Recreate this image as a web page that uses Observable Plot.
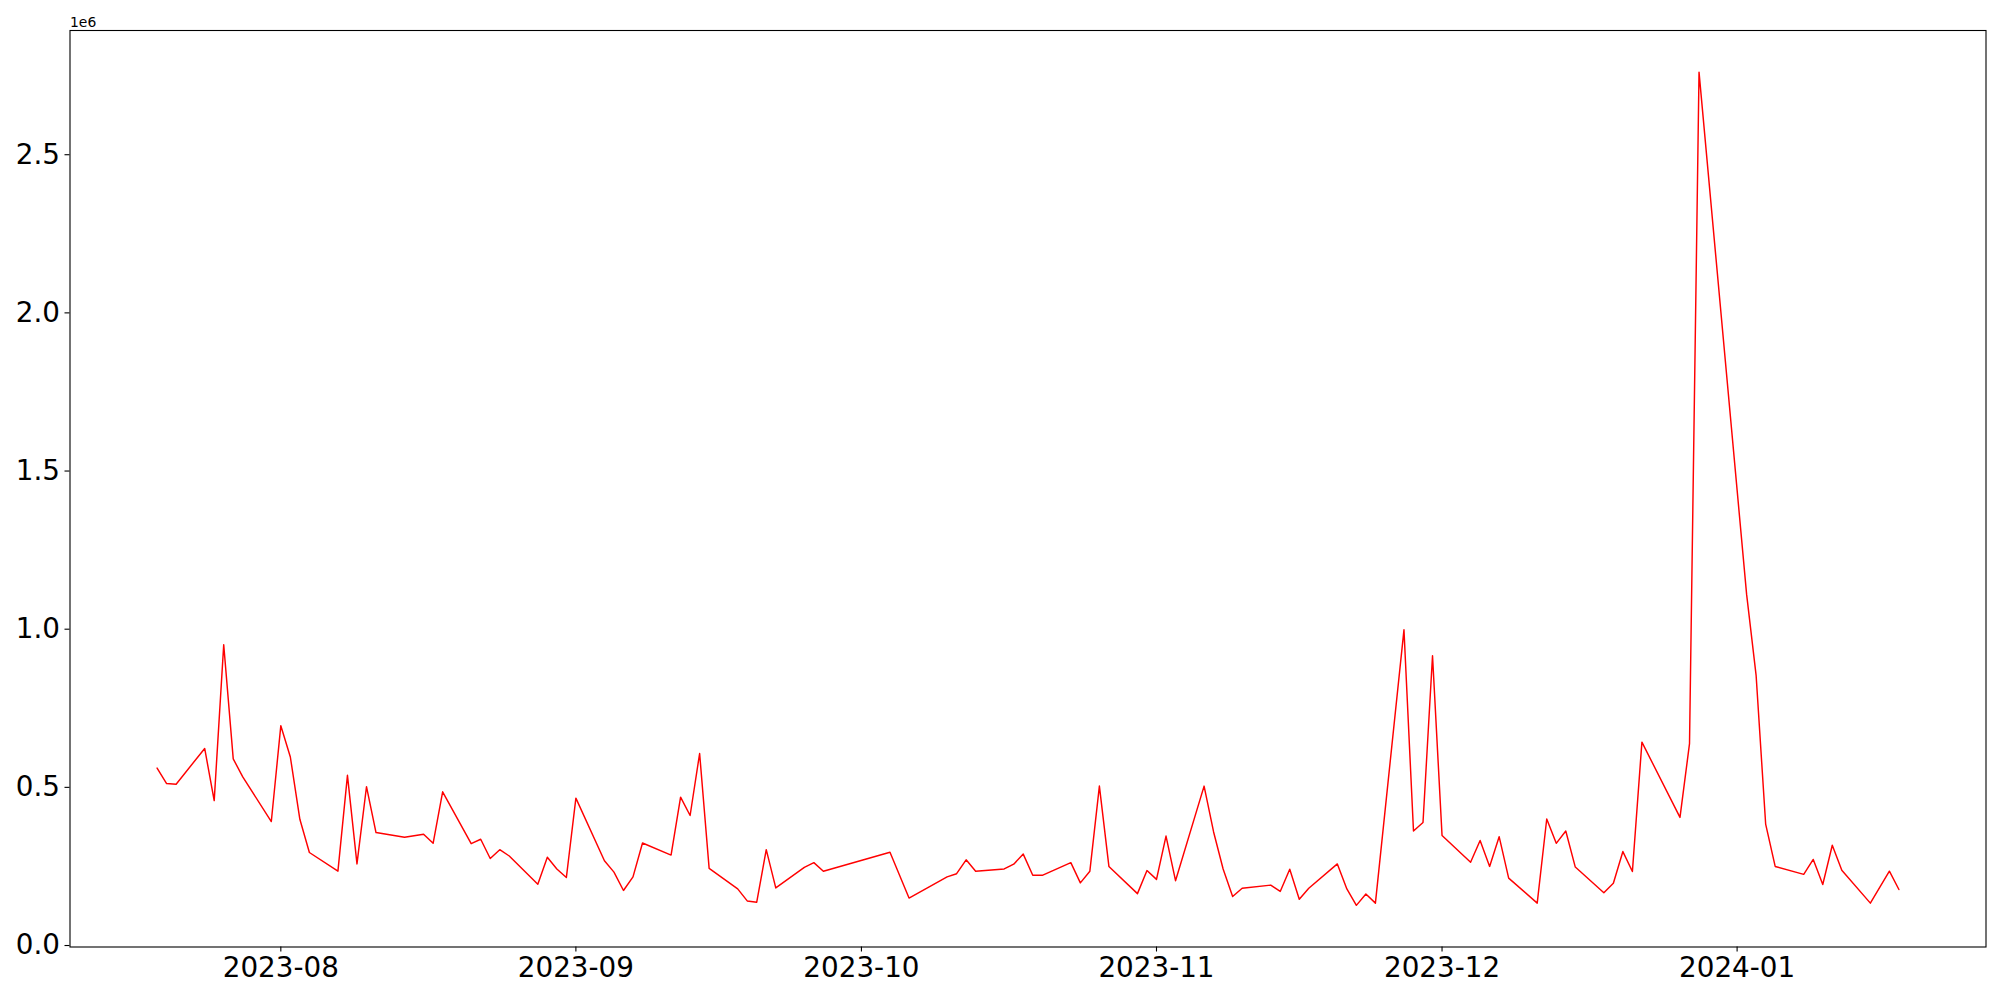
<!DOCTYPE html>
<html>
<head>
<meta charset="utf-8">
<script src="https://cdn.jsdelivr.net/npm/d3@7"></script>
<script src="https://cdn.jsdelivr.net/npm/@observablehq/plot@0.6"></script>
<style>
  html, body { margin: 0; padding: 0; background: #fff; }
  #chart { width: 2000px; height: 1000px; }
</style>
</head>
<body>
<div id="chart"></div>
<script>
const dates = [
  "2023-07-19","2023-07-20","2023-07-21","2023-07-24","2023-07-25","2023-07-26","2023-07-27","2023-07-28","2023-07-31",
  "2023-08-01","2023-08-02","2023-08-03","2023-08-04","2023-08-07","2023-08-08","2023-08-09","2023-08-10","2023-08-11",
  "2023-08-14","2023-08-16","2023-08-17","2023-08-18","2023-08-21","2023-08-22","2023-08-23","2023-08-24","2023-08-25",
  "2023-08-28","2023-08-29","2023-08-30","2023-08-31","2023-09-01","2023-09-04","2023-09-05","2023-09-06","2023-09-07",
  "2023-09-08","2023-09-11","2023-09-12","2023-09-13","2023-09-14","2023-09-15","2023-09-18","2023-09-19","2023-09-20",
  "2023-09-21","2023-09-22","2023-09-25","2023-09-26","2023-09-27","2023-10-04","2023-10-06","2023-10-10","2023-10-11",
  "2023-10-12","2023-10-13","2023-10-16","2023-10-17","2023-10-18","2023-10-19","2023-10-20","2023-10-23","2023-10-24",
  "2023-10-25","2023-10-26","2023-10-27","2023-10-30","2023-10-31","2023-11-01","2023-11-02","2023-11-03","2023-11-06",
  "2023-11-07","2023-11-08","2023-11-09","2023-11-10","2023-11-13","2023-11-14","2023-11-15","2023-11-16","2023-11-17",
  "2023-11-20","2023-11-21","2023-11-22","2023-11-23","2023-11-24","2023-11-27","2023-11-28","2023-11-29","2023-11-30",
  "2023-12-01","2023-12-04","2023-12-05","2023-12-06","2023-12-07","2023-12-08","2023-12-11","2023-12-12","2023-12-13",
  "2023-12-14","2023-12-15","2023-12-18","2023-12-19","2023-12-20","2023-12-21","2023-12-22","2023-12-26","2023-12-27",
  "2023-12-28","2024-01-02","2024-01-03","2024-01-04","2024-01-05","2024-01-08","2024-01-09","2024-01-10","2024-01-11",
  "2024-01-12","2024-01-15","2024-01-17","2024-01-18"
];
const values = [
  561000,512000,510000,623000,458000,951000,590000,533000,392000,
  695000,596000,399000,294000,235000,538000,258000,502000,357000,
  342000,352000,323000,486000,322000,336000,275000,303000,283000,
  194000,279000,242000,215000,466000,268000,232000,174000,217000,
  324000,286000,469000,411000,607000,244000,179000,141000,137000,
  303000,182000,247000,262000,235000,295000,150000,217000,227000,
  271000,235000,242000,257000,289000,222000,222000,262000,198000,
  235000,504000,250000,164000,237000,209000,346000,205000,504000,
  359000,242000,155000,181000,191000,171000,241000,146000,181000,
  258000,179000,127000,163000,134000,998000,362000,389000,916000,
  348000,263000,332000,250000,344000,213000,134000,400000,323000,
  362000,248000,167000,197000,297000,234000,643000,405000,638000,
  2761000,1110000,853000,384000,250000,225000,272000,193000,317000,
  238000,134000,235000,177000
];
const yTicks = [0, 500000, 1000000, 1500000, 2000000, 2500000];
const offsetLabel = ["1e6"];

const data = dates.map((d, i) => ({date: new Date(d + "T00:00:00Z"), value: values[i]}));

// matplotlib-like 5% autoscale margins
const [xa, xb] = d3.extent(data, d => +d.date);
const xPad = (xb - xa) * 0.05;
const [ya, yb] = d3.extent(data, d => d.value);
const yPad = (yb - ya) * 0.05;

const fs = 27.8;
const chart = Plot.plot({
  width: 2000,
  height: 1000,
  marginLeft: 69.5,
  marginRight: 14.5,
  marginTop: 30,
  marginBottom: 53.5,
  style: {fontFamily: "'DejaVu Sans', sans-serif", color: "black", background: "white", overflow: "visible"},
  x: {type: "utc", domain: [new Date(xa - xPad), new Date(xb + xPad)]},
  y: {domain: [ya - yPad, yb + yPad]},
  marks: [
    Plot.lineY(data, {x: "date", y: "value", stroke: "red", strokeWidth: 1.45}),
    Plot.frame({stroke: "black", strokeWidth: 1.1}),
    Plot.axisX({ticks: d3.utcMonth, tickFormat: d3.utcFormat("%Y-%m"), tickSize: 5, tickPadding: 5, fontSize: fs, strokeWidth: 1.1, label: null}),
    Plot.axisY({ticks: yTicks, tickFormat: d => (d / 1e6).toFixed(1), tickSize: 5, tickPadding: 5, fontSize: fs, strokeWidth: 1.1, label: null}),
    Plot.text(offsetLabel, {text: d => d, frameAnchor: "top-left", textAnchor: "start", lineAnchor: "bottom", dy: -4, fontSize: 13.9})
  ]
});
document.getElementById("chart").appendChild(chart);
</script>
</body>
</html>
